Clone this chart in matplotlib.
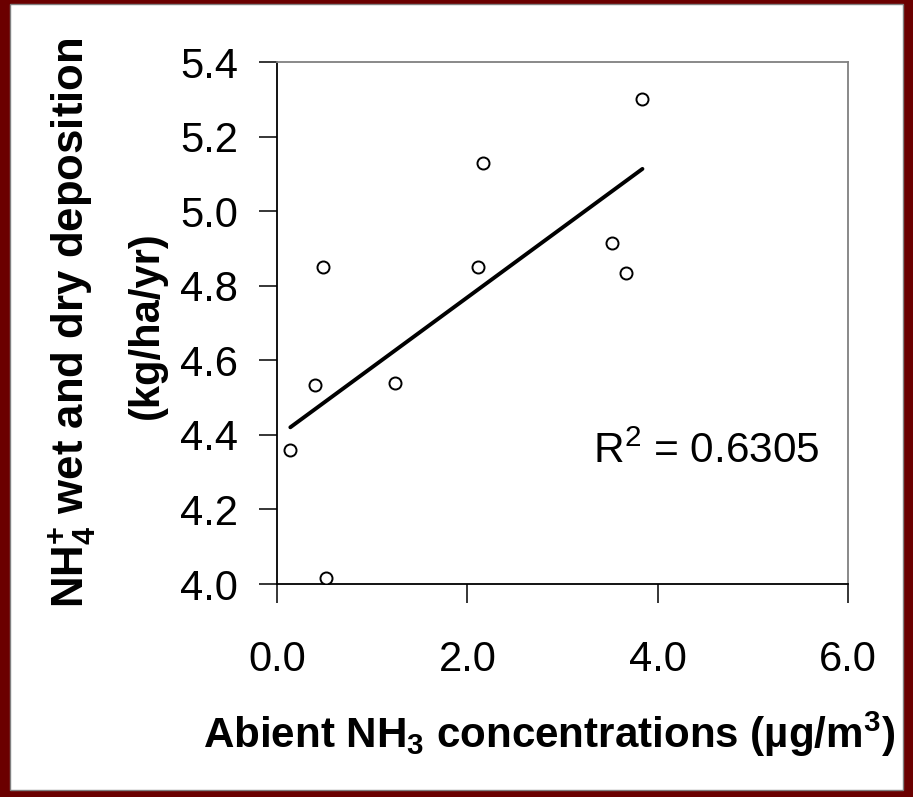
import numpy as np
import matplotlib
matplotlib.use("Agg")
import matplotlib.pyplot as plt
from matplotlib.patches import Rectangle

# Data
nh3_conc = [0.14, 0.40, 0.48, 0.52, 1.24, 2.11, 2.16, 3.52, 3.67, 3.84]
nh4_dep = [4.36, 4.535, 4.85, 4.015, 4.54, 4.85, 5.128, 4.914, 4.835, 5.30]
x_ticks = [0.0, 2.0, 4.0, 6.0]
y_ticks = [4.0, 4.2, 4.4, 4.6, 4.8, 5.0, 5.2, 5.4]
r2_text = r"R$^{2}$ = 0.6305"

plt.rcParams['font.family'] = ['Liberation Sans', 'DejaVu Sans']
plt.rcParams['mathtext.fontset'] = 'custom'
plt.rcParams['mathtext.rm'] = 'Liberation Sans'
plt.rcParams['mathtext.it'] = 'Liberation Sans:italic'
plt.rcParams['mathtext.bf'] = 'Liberation Sans:bold'

W, H = 913, 797
fig = plt.figure(figsize=(W / 100, H / 100), dpi=100, facecolor='#6b0000')

# white panel inside the dark red frame
fig.patches.append(Rectangle((10 / W, 1 - 790 / H), (903 - 10) / W, (790 - 4) / H,
                             transform=fig.transFigure, facecolor='white',
                             edgecolor='#808080', linewidth=1.0, zorder=-5))

ax_l, ax_r, ax_t, ax_b = 277, 848, 62, 584
ax = fig.add_axes([ax_l / W, 1 - ax_b / H, (ax_r - ax_l) / W, (ax_b - ax_t) / H])
ax.set_zorder(2)
ax.set_facecolor('white')

ax.scatter(nh3_conc, nh4_dep, s=75, facecolors='white', edgecolors='black',
           linewidths=1.4, zorder=3)

# linear trend line over the data range
coef = np.polyfit(nh3_conc, nh4_dep, 1)
xs = np.array([min(nh3_conc), max(nh3_conc)])
ax.plot(xs, np.polyval(coef, xs), color='black', linewidth=2.8,
        solid_capstyle='round', zorder=2)

ax.set_xlim(0, 6)
ax.set_ylim(4.0, 5.4)
ax.set_xticks(x_ticks)
ax.set_yticks(y_ticks)
ax.set_xticklabels([f"{v:.1f}" for v in x_ticks])
ax.set_yticklabels([f"{v:.1f}" for v in y_ticks])
ax.tick_params(axis='both', direction='out', labelsize=30, width=1.1,
               color='black')
ax.tick_params(axis='y', length=13, pad=15)
ax.tick_params(axis='x', length=14, pad=26)

for side in ['left', 'bottom']:
    ax.spines[side].set_color('black')
    ax.spines[side].set_linewidth(1.3)
for side in ['top', 'right']:
    ax.spines[side].set_color('#808080')
    ax.spines[side].set_linewidth(1.3)

ax.text((593 - ax_l) / (ax_r - ax_l), 1 - (463 - ax_t) / (ax_b - ax_t),
        r2_text, transform=ax.transAxes, fontsize=30.5, ha='left',
        va='baseline')

# axis titles
fig.text(84 / W, 1 - 323 / H, r"NH$_{\mathbf{4}}^{\mathbf{+}}$ wet and dry deposition",
         rotation=90, rotation_mode='anchor', ha='center', va='baseline',
         fontsize=31.5, fontweight='bold')
fig.text(158 / W, 1 - 325 / H, "(kg/ha/yr)",
         rotation=90, rotation_mode='anchor', ha='center', va='baseline',
         fontsize=30, fontweight='bold')
fig.text(549 / W, 1 - 748 / H,
         r"Abient NH$_{\mathbf{3}}$ concentrations (µg/m$^{\mathbf{3}}$)",
         ha='center', va='baseline', fontsize=30.3, fontweight='bold')

fig.savefig('out.png', dpi=100, facecolor=fig.get_facecolor())
